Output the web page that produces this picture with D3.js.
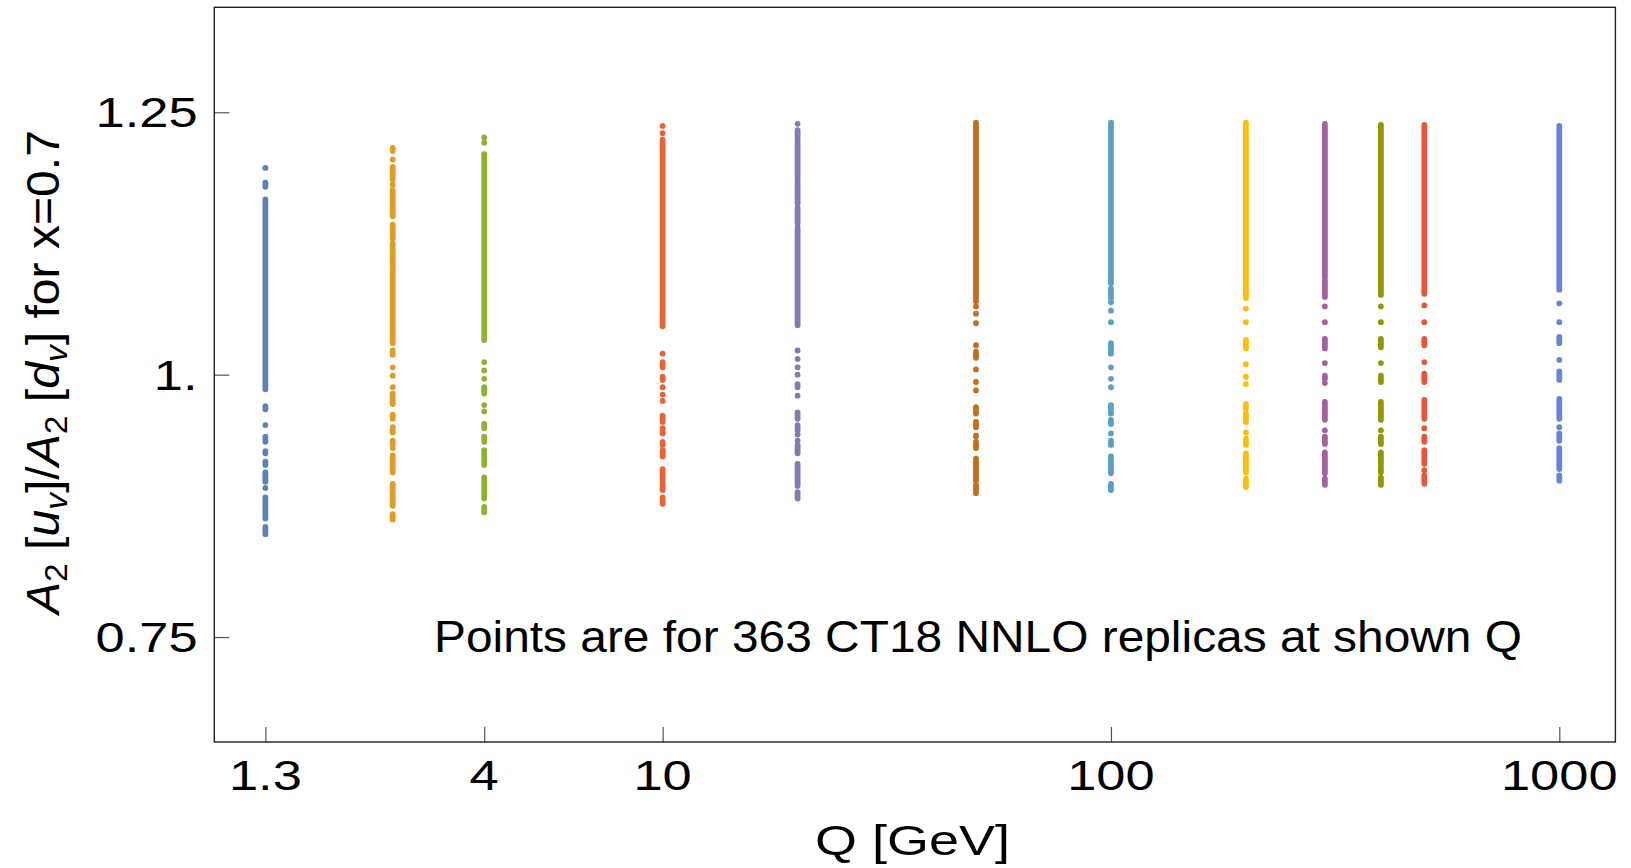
<!DOCTYPE html>
<html>
<head>
<meta charset="utf-8">
<script src="https://cdn.jsdelivr.net/npm/d3@7"></script>
<style>
  body { margin: 0; background: #fff; }
  svg text { font-family: "Liberation Sans", Arial, sans-serif; fill: #000; }
</style>
</head>
<body>
<svg id="chart"></svg>
<script>
// scales Q (GeV) at which the 363 replicas are shown
const qValues = [1.3, 2.5, 4, 10, 20, 50, 100, 200, 300, 400, 500, 1000];
const seriesColors = ['#5E81B5', '#E19C24', '#8FB032', '#EB6235', '#8778B3', '#C56E1A',
  '#5D9EC7', '#FFBF00', '#A5609D', '#929600', '#E95536', '#6685D9'];

// replica values, top to bottom.
// [v] = a lone dot, [top, bottom] = a run of dots too dense to tell apart
const runsQ1p3 = [[1.197], [1.183, 1.179], [1.167, 0.986], [0.970, 0.967], [0.952], [0.941, 0.936],
  [0.927, 0.925], [0.917, 0.914], [0.907, 0.898], [0.892], [0.883, 0.863], [0.855, 0.848]];
const runsQ2p5 = [[1.216, 1.213], [1.205], [1.198, 1.186], [1.181], [1.176, 1.151], [1.143, 1.130],
  [1.125, 1.106], [1.103, 1.030], [1.023, 1.019], [1.007], [0.999], [0.988], [0.982, 0.972],
  [0.962, 0.958], [0.950, 0.945], [0.937, 0.934], [0.930], [0.923, 0.907], [0.896, 0.875], [0.867, 0.862]];
const runsQ4 = [[1.226], [1.221], [1.210, 1.033], [1.012], [1.004], [0.996], [0.988, 0.982], [0.971],
  [0.965], [0.953, 0.949], [0.941, 0.936], [0.928, 0.914], [0.902, 0.882], [0.874, 0.869]];
const runsQ10 = [[1.237], [1.230], [1.224, 1.046], [1.020], [1.012, 1.007], [0.998, 0.995], [0.988],
  [0.981], [0.975], [0.961, 0.955], [0.949, 0.944], [0.936, 0.933], [0.928, 0.922], [0.910, 0.890],
  [0.883, 0.877]];
const runsQ20 = [[1.239], [1.233, 1.227], [1.224, 1.189], [1.186, 1.163], [1.159, 1.144], [1.140, 1.047],
  [1.023], [1.015], [1.007], [1.000], [0.991, 0.988], [0.980], [0.964, 0.958], [0.952, 0.947], [0.943],
  [0.937], [0.933, 0.925], [0.915, 0.894], [0.888, 0.882]];
const runsQ50 = [[1.240, 1.073], [1.070], [1.065], [1.058], [1.049], [1.028], [1.022, 1.016], [1.005],
  [0.993], [0.985], [0.969, 0.963], [0.955, 0.950], [0.942, 0.941], [0.936, 0.930], [0.920, 0.899],
  [0.895, 0.887]];
const runsQ100 = [[1.240, 1.087], [1.082, 1.073], [1.069], [1.061], [1.050], [1.030, 1.020], [1.007],
  [0.996], [0.988], [0.971, 0.963], [0.957, 0.953], [0.944], [0.937, 0.933], [0.922, 0.906], [0.896, 0.890]];
const runsQ200 = [[1.240, 1.090], [1.087, 1.073], [1.063], [1.050], [1.033, 1.025], [1.010], [0.998],
  [0.991], [0.972, 0.968], [0.963, 0.955], [0.945], [0.939, 0.933], [0.925, 0.907], [0.901, 0.893]];
const runsQ300 = [[1.239, 1.092], [1.089, 1.074], [1.065], [1.050], [1.034, 1.025], [1.011], [0.999, 0.996],
  [0.992], [0.974, 0.957], [0.947], [0.941, 0.934], [0.926, 0.906], [0.901, 0.895]];
const runsQ400 = [[1.238, 1.076], [1.065], [1.050], [1.034, 1.026], [1.011], [0.999, 0.993], [0.974, 0.957],
  [0.947], [0.941, 0.934], [0.926, 0.915], [0.912, 0.907], [0.902, 0.895]];
const runsQ500 = [[1.238, 1.077], [1.066], [1.050], [1.034, 1.028], [1.012], [1.001, 0.993], [0.976, 0.958],
  [0.949], [0.941, 0.936], [0.928, 0.915], [0.909], [0.904, 0.896]];
const runsQ1000 = [[1.237, 1.081], [1.068], [1.050], [1.036, 1.030], [1.014], [1.003, 0.995], [0.977, 0.958],
  [0.950], [0.944, 0.937], [0.930, 0.910], [0.904, 0.899]];

const xTickValues = [1.3, 4, 10, 100, 1000];
const xTickLabels = ['1.3', '4', '10', '100', '1000'];
const yTickValues = [0.75, 1, 1.25];
const yTickLabels = ['0.75', '1.', '1.25'];

const seriesRuns = [runsQ1p3, runsQ2p5, runsQ4, runsQ10, runsQ20, runsQ50,
  runsQ100, runsQ200, runsQ300, runsQ400, runsQ500, runsQ1000];

const width = 1631, height = 868;
const plot = { left: 214.3, right: 1615.4, top: 7.3, bottom: 742 };
const dotR = 2.9;

const svg = d3.select('#chart').attr('width', width).attr('height', height);

const x = d3.scaleLog().domain([1, 1334]).range([plot.left, plot.right]);
const y = d3.scaleLinear().domain([0.65, 1.35]).range([plot.bottom, plot.top]);

// squeeze/stretch a text node to a given width and anchor it by hand
function fitText(node, ax, anchor, factor, len) {
  const w = len || node.getComputedTextLength() * factor;
  node.setAttribute('textLength', w);
  node.setAttribute('lengthAdjust', 'spacingAndGlyphs');
  const x0 = anchor === 'middle' ? ax - w / 2 : anchor === 'end' ? ax - w : ax;
  node.setAttribute('x', x0);
}

// ticks (inside the frame)
svg.append('g')
  .attr('transform', `translate(0,${plot.bottom})`)
  .call(d3.axisBottom(x).tickValues(xTickValues).tickSize(-15).tickSizeOuter(0).tickFormat(''))
  .call(g => g.select('.domain').remove())
  .selectAll('line').attr('stroke', '#555').attr('stroke-width', 1.2);

svg.append('g')
  .attr('transform', `translate(${plot.left},0)`)
  .call(d3.axisLeft(y).tickValues(yTickValues).tickSize(-15).tickSizeOuter(0).tickFormat(''))
  .call(g => g.select('.domain').remove())
  .selectAll('line').attr('stroke', '#555').attr('stroke-width', 1.2);

// tick labels
svg.append('g').selectAll('text')
  .data(xTickValues)
  .join('text')
    .attr('y', 790)
    .attr('font-size', 43)
    .text((d, i) => xTickLabels[i])
    .each(function(d) { fitText(this, x(d), 'middle', 1.22); });

svg.append('g').selectAll('text')
  .data(yTickValues)
  .join('text')
    .attr('y', d => y(d) + 15)
    .attr('font-size', 43)
    .text((d, i) => yTickLabels[i])
    .each(function() { fitText(this, 197.6, 'end', 1.22); });

// replica points
const pts = svg.append('g');
seriesRuns.forEach((runs, i) => {
  const cx = x(qValues[i]);
  pts.append('g').selectAll('line')
    .data(runs.filter(r => r.length > 1))
    .join('line')
      .attr('x1', cx).attr('x2', cx)
      .attr('y1', d => y(d[0]))
      .attr('y2', d => y(d[1]))
      .attr('stroke', seriesColors[i])
      .attr('stroke-width', dotR * 2)
      .attr('stroke-linecap', 'round');
  pts.append('g').selectAll('circle')
    .data(runs.filter(r => r.length === 1))
    .join('circle')
      .attr('cx', cx)
      .attr('cy', d => y(d[0]))
      .attr('r', dotR)
      .attr('fill', seriesColors[i]);
});

// frame
svg.append('rect')
  .attr('x', plot.left).attr('y', plot.top)
  .attr('width', plot.right - plot.left).attr('height', plot.bottom - plot.top)
  .attr('fill', 'none').attr('stroke', '#222').attr('stroke-width', 1.4);

// note inside the plot
svg.append('text')
  .attr('y', 652)
  .attr('font-size', 45)
  .text('Points are for 363 CT18 NNLO replicas at shown Q')
  .each(function() { fitText(this, 434, 'start', 1, 1088); });

// axis labels
svg.append('text')
  .attr('y', 855)
  .attr('font-size', 43)
  .text('Q [GeV]')
  .each(function() { fitText(this, 815, 'start', 1, 195); });

const yLab = svg.append('text')
  .attr('transform', 'translate(0,372) rotate(-90)')
  .attr('y', 59)
  .attr('font-size', 46);
yLab.append('tspan').attr('font-style', 'italic').text('A');
yLab.append('tspan').attr('font-size', 32).attr('dy', 8).text('2');
yLab.append('tspan').attr('dy', -8).text(' [');
yLab.append('tspan').attr('font-style', 'italic').text('u');
yLab.append('tspan').attr('font-style', 'italic').attr('font-size', 32).attr('dy', 8).text('v');
yLab.append('tspan').attr('dy', -8).text(']/');
yLab.append('tspan').attr('font-style', 'italic').text('A');
yLab.append('tspan').attr('font-size', 32).attr('dy', 8).text('2');
yLab.append('tspan').attr('dy', -8).text(' [');
yLab.append('tspan').attr('font-style', 'italic').text('d');
yLab.append('tspan').attr('font-style', 'italic').attr('font-size', 32).attr('dy', 8).text('v');
yLab.append('tspan').attr('dy', -8).text('] for x=0.7');
yLab.each(function() { fitText(this, 0, 'middle', 1, 484); });
</script>
</body>
</html>
